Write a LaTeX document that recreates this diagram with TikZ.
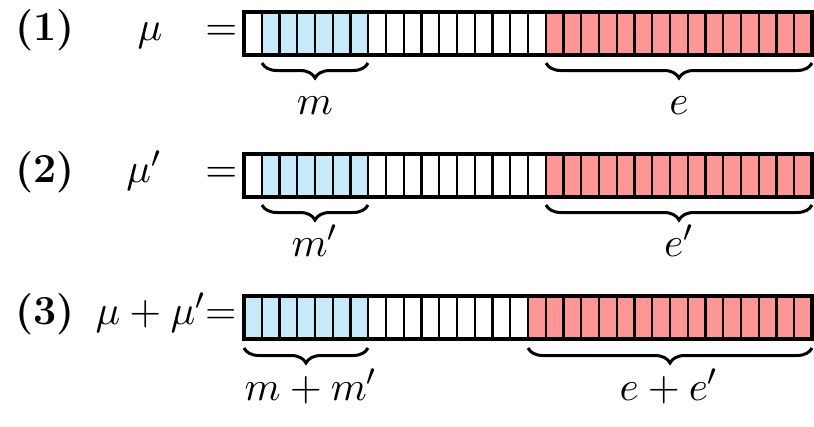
\documentclass[tikz,border=0pt]{standalone}
\usetikzlibrary{decorations.pathreplacing}
\definecolor{cblue}{RGB}{198,234,249}
\definecolor{cred}{RGB}{255,150,150}
\begin{document}
\begin{tikzpicture}[x=0.2667pt,y=-0.2667pt,
  font=\fontsize{11}{13}\selectfont,
  cellbox/.style={draw=black,line width=0.55pt},
  outerbox/.style={draw=black,line width=0.95pt},
  bracedeco/.style={decorate,decoration={brace,mirror,amplitude=4pt},line width=0.8pt},
  txt/.style={inner sep=0pt,anchor=base}]
\useasboundingbox (0,0) rectangle (814,426);
% row 1
\foreach \a/\b/\c in {0/0/white,1/6/cblue,7/16/white,17/31/cred}
  \foreach \i in {\a,...,\b}
    \draw[cellbox,fill=\c] ({244+17.75*\i},12) rectangle ++(17.75,43);
\draw[outerbox] (244,12) rectangle (812,55);
% row 2
\foreach \a/\b/\c in {0/0/white,1/6/cblue,7/16/white,17/31/cred}
  \foreach \i in {\a,...,\b}
    \draw[cellbox,fill=\c] ({244+17.75*\i},154) rectangle ++(17.75,43);
\draw[outerbox] (244,154) rectangle (812,197);
% row 3
\foreach \a/\b/\c in {0/6/cblue,7/15/white,16/31/cred}
  \foreach \i in {\a,...,\b}
    \draw[cellbox,fill=\c] ({244+17.75*\i},296) rectangle ++(17.75,43);
\draw[outerbox] (244,296) rectangle (812,339);
% braces
\coordinate (b1a) at (262,63); \coordinate (b1b) at (368,63);
\coordinate (b1c) at (546,63); \coordinate (b1d) at (812,63);
\coordinate (b2a) at (262,205); \coordinate (b2b) at (368,205);
\coordinate (b2c) at (546,205); \coordinate (b2d) at (812,205);
\coordinate (b3a) at (244,348); \coordinate (b3b) at (368,348);
\coordinate (b3c) at (528,348); \coordinate (b3d) at (812,348);
\draw[bracedeco] (b1a) -- (b1b);
\draw[bracedeco] (b1c) -- (b1d);
\draw[bracedeco] (b2a) -- (b2b);
\draw[bracedeco] (b2c) -- (b2d);
\draw[bracedeco] (b3a) -- (b3b);
\draw[bracedeco] (b3c) -- (b3d);
% brace labels
\node[txt] (lm) at (315,114) {$m$};
\node[txt] (le) at (679,114) {$e$};
\node[txt] (lm2) at (315,256) {$m'$};
\node[txt] (le2) at (679,256) {$e'$};
\node[txt] (lm3) at (311,400) {$m+m'$};
\node[txt] (le3) at (669,400) {$e+e'$};
% left labels
\node[txt] (n1) at (45,40) {\textbf{(1)}};
\node[txt] (mu1) at (150,40) {$\mu$};
\node[txt,anchor=base east] (eq1) at (238,40) {$=$};
\node[txt] (n2) at (45,182) {\textbf{(2)}};
\node[txt] (mu2) at (144,182) {$\mu'$};
\node[txt,anchor=base east] (eq2) at (238,182) {$=$};
\node[txt] (n3) at (45,324) {\textbf{(3)}};
\node[txt,anchor=base east] (mu3) at (238,324) {$\mu+\mu'$=};
\end{tikzpicture}
\end{document}
